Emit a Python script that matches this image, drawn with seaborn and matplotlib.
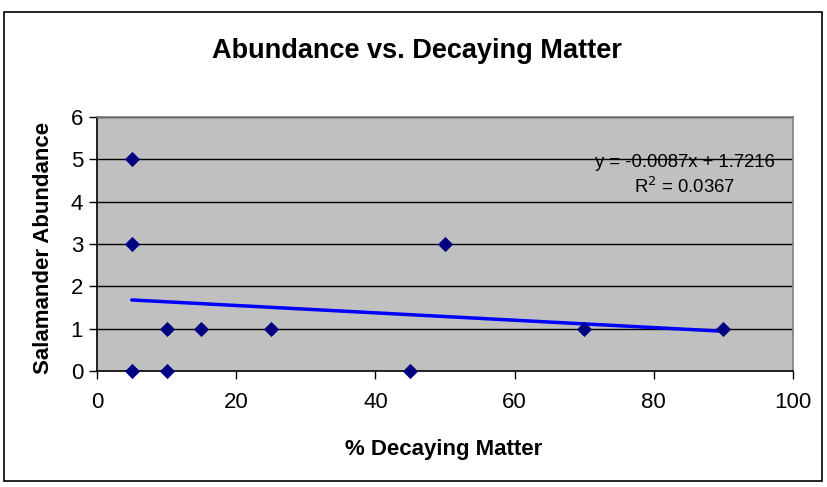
import matplotlib
matplotlib.use("Agg")
import matplotlib.pyplot as plt
import seaborn as sns
import numpy as np
import pandas as pd
from matplotlib.patches import Rectangle

# Data
decaying_pct = [5, 5, 5, 10, 10, 15, 25, 45, 50, 70, 90]
abundance = [5, 3, 0, 1, 0, 1, 1, 0, 3, 1, 1]
trend_slope = -0.0087
trend_intercept = 1.7216
r_squared = 0.0367
x_ticks = [0, 20, 40, 60, 80, 100]
y_ticks = [0, 1, 2, 3, 4, 5, 6]

sns.set_theme(style="white")
plt.rcParams['font.family'] = ['Liberation Sans', 'DejaVu Sans']
plt.rcParams['text.color'] = 'black'
plt.rcParams['xtick.color'] = 'black'
plt.rcParams['ytick.color'] = 'black'

df = pd.DataFrame({"x": decaying_pct, "y": abundance})
xs = np.array([min(decaying_pct), max(decaying_pct)])
trend = pd.DataFrame({"x": xs, "y": trend_slope * xs + trend_intercept})

W, H = 827, 487
fig = plt.figure(figsize=(W / 100, H / 100), dpi=100)
fig.patch.set_facecolor("white")
ax = fig.add_axes([97 / W, 1 - 371 / H, (793 - 97) / W, (371 - 117) / H])
ax.set_facecolor("#C0C0C0")

for yv in y_ticks[1:]:
    ax.axhline(yv, color="black", lw=1.0, zorder=1)

sns.lineplot(data=trend, x="x", y="y", color="#0000FF", lw=2.5, ax=ax, zorder=3)
sns.scatterplot(data=df, x="x", y="y", marker="D", s=60, color="#000080",
                edgecolor="#000080", linewidth=0, ax=ax, zorder=4, clip_on=False)

ax.set_xlim(0, 100)
ax.set_ylim(0, 6)
ax.set_xticks(x_ticks)
ax.set_yticks(y_ticks)
ax.set_xticklabels([str(v) for v in x_ticks], fontsize=16)
ax.set_yticklabels([str(v) for v in y_ticks], fontsize=16)
ax.tick_params(axis="both", direction="out", length=6, width=1, colors="black",
               bottom=True, left=True)
ax.tick_params(axis="y", pad=4)
ax.tick_params(axis="x", pad=9)
ax.set_xlabel("")
ax.set_ylabel("")

for side in ["left", "bottom"]:
    ax.spines[side].set_color("black")
    ax.spines[side].set_linewidth(1.2)
for side in ["top", "right"]:
    ax.spines[side].set_color("#808080")
    ax.spines[side].set_linewidth(1.2)

fig.text(416.5 / W, 1 - 58 / H, "Abundance vs. Decaying Matter", ha="center", va="baseline",
         fontsize=19.5, fontweight="bold")
fig.text(444 / W, 1 - 455 / H, "% Decaying Matter", ha="center", va="baseline",
         fontsize=16, fontweight="bold")
fig.text(44 / W, 1 - 247.5 / H, "Salamander Abundance", ha="center", va="center",
         rotation=90, fontsize=16, fontweight="bold")

fig.text(685 / W, 1 - 167 / H, f"y = {trend_slope:.4f}x + {trend_intercept:.4f}",
         ha="center", va="baseline", fontsize=13.3)
fig.text(685 / W, 1 - 193 / H, f"R$^2$ = {r_squared:.4f}",
         ha="center", va="baseline", fontsize=13.3)

fig.patches.append(Rectangle((4 / W, 1 - 481 / H), 818 / W, 469 / H,
                             transform=fig.transFigure, fill=False,
                             edgecolor="black", lw=1.2))

fig.savefig("out.png", dpi=100)
